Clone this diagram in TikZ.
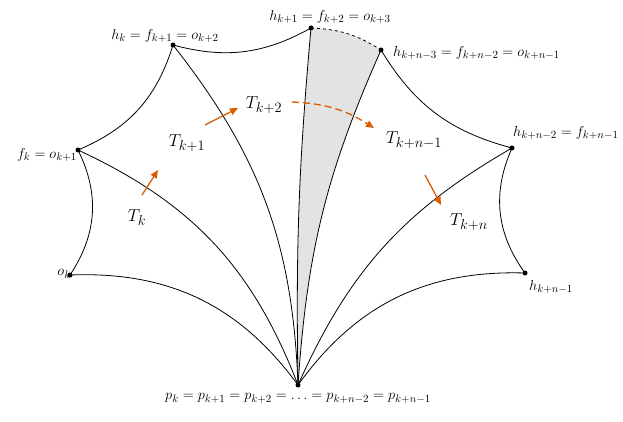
\documentclass[tikz,border=0pt]{standalone}
\usepackage{fontspec}
\setmainfont{Liberation Serif}
\usetikzlibrary{arrows.meta}
\begin{document}
\begin{tikzpicture}[x=1pt,y=-1pt,
 dot/.style={circle,fill=black,inner sep=0pt,minimum size=5pt},
 lab/.style={font=\fontsize{15}{17}\selectfont,inner sep=1pt},
 tl/.style={font=\fontsize{19}{21}\selectfont},
 arr/.style={draw=orange!85!red!85!black,line width=1.3pt,-{Triangle[length=8pt,width=7pt]}},
 edge/.style={line width=0.8pt}]
\useasboundingbox (0,0) rectangle (623,422);
\coordinate (p) at (298,385);
\coordinate (ok) at (70,275);
\coordinate (fk) at (78,150);
\coordinate (hk) at (173,45);
\coordinate (h1) at (311,28);
\coordinate (h3) at (381,50);
\coordinate (h2) at (512,148);
\coordinate (hn) at (525,273);
\fill[gray!22] (p) to[bend left=3] (h1) to[bend left=15] (h3) to[bend right=10] (p);
\draw[edge] (ok) to[bend right=30] (fk) to[bend right=25] (hk) to[bend right=22] (h1);
\draw[edge,dashed] (h1) to[bend left=15] (h3);
\draw[edge] (h3) to[bend right=22] (h2) to[bend right=30] (hn);
\draw[edge] (p) to[bend right=28] (ok);
\draw[edge] (p) to[bend right=22] (fk);
\draw[edge] (p) to[bend right=18] (hk);
\draw[edge] (p) to[bend left=3] (h1);
\draw[edge] (p) to[bend left=10] (h3);
\draw[edge] (p) to[bend left=18] (h2);
\draw[edge] (p) to[bend left=28] (hn);
\foreach \c in {p,ok,fk,hk,h1,h3,h2,hn} \node[dot] (d\c) at (\c) {};
\node[lab,anchor=north] (lp) at (298,392) {$p_k = p_{k+1} = p_{k+2} = \ldots = p_{k+n-2} = p_{k+n-1}$};
\node[lab,anchor=north east] (lok) at (72,268) {$o_k$};
\node[lab,anchor=east] (lfk) at (78,155) {$f_k = o_{k+1}$};
\node[lab,anchor=south] (lhk) at (165,44) {$h_k = f_{k+1} = o_{k+2}$};
\node[lab,anchor=south] (lh1) at (330,25) {$h_{k+1} = f_{k+2} = o_{k+3}$};
\node[lab,anchor=west] (lh3) at (392,53) {$h_{k+n-3} = f_{k+n-2} = o_{k+n-1}$};
\node[lab,anchor=west] (lh2) at (512,133) {$h_{k+n-2} = f_{k+n-1}$};
\node[lab,anchor=west] (lhn) at (528,287) {$h_{k+n-1}$};
\node[tl] (t0) at (137,218) {$T_k$};
\node[tl] (t1) at (187,143) {$T_{k+1}$};
\node[tl] (t2) at (264,105) {$T_{k+2}$};
\node[tl] (t3) at (414,140) {$T_{k+n-1}$};
\node[tl] (t4) at (469,222) {$T_{k+n}$};
\coordinate (a0s) at (142,195); \coordinate (a0e) at (158,170);
\coordinate (a1s) at (205,125); \coordinate (a1e) at (238,108);
\coordinate (a2s) at (292,102); \coordinate (a2e) at (374,128);
\coordinate (a3s) at (425,175); \coordinate (a3e) at (441,205);
\draw[arr] (a0s) -- (a0e);
\draw[arr] (a1s) -- (a1e);
\draw[arr,dash pattern=on 7pt off 4pt] (a2s) to[bend left=15] (a2e);
\draw[arr] (a3s) -- (a3e);
\end{tikzpicture}
\end{document}
